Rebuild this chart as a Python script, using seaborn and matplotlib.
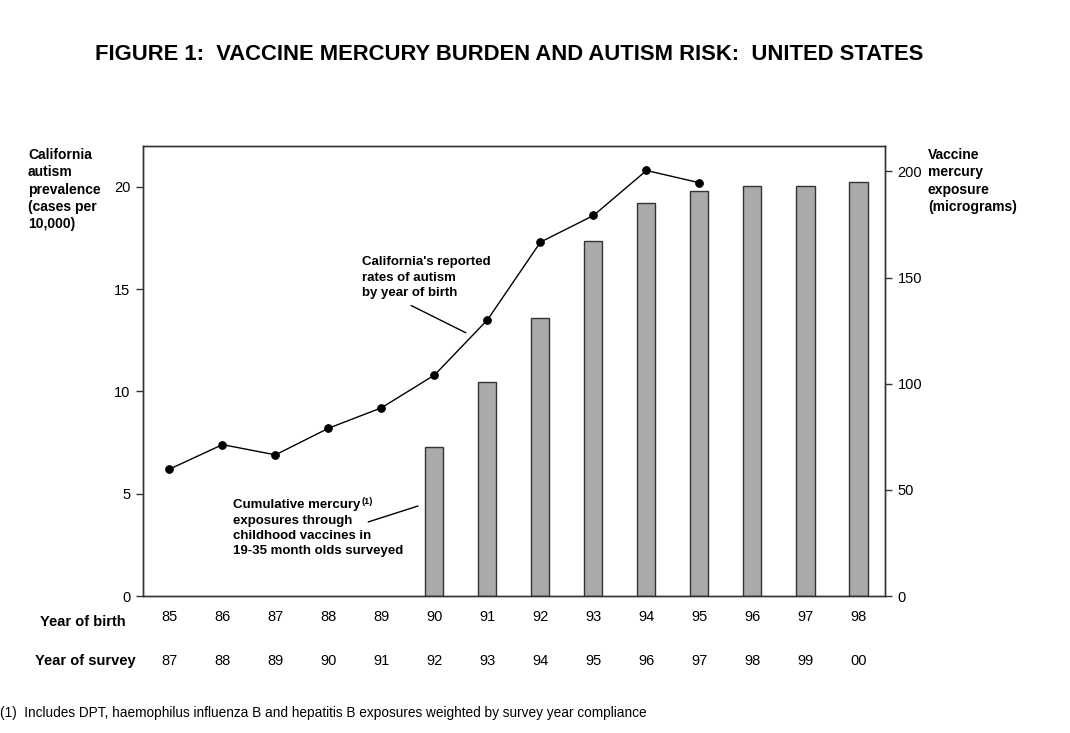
import pandas as pd
import numpy as np
import seaborn as sns
import matplotlib.pyplot as plt

# Data
birth_years = ['85', '86', '87', '88', '89', '90', '91', '92', '93', '94', '95', '96', '97', '98']
survey_years = ['87', '88', '89', '90', '91', '92', '93', '94', '95', '96', '97', '98', '99', '00']

rate_years = ['85', '86', '87', '88', '89', '90', '91', '92', '93', '94', '95']
autism_rate = [6.2, 7.4, 6.9, 8.2, 9.2, 10.8, 13.5, 17.3, 18.6, 20.8, 20.2]

mercury_years = ['90', '91', '92', '93', '94', '95', '96', '97', '98']
mercury_ug = [70, 101, 131, 167, 185, 191, 193, 193, 195]

rate_df = pd.DataFrame({'birth': rate_years, 'rate': autism_rate})
merc_df = pd.DataFrame({'birth': mercury_years, 'mercury': mercury_ug})

sns.set_style('white')
plt.rcParams['font.family'] = ['Liberation Sans', 'DejaVu Sans']
for key in ['text.color', 'axes.labelcolor', 'xtick.color', 'ytick.color']:
    plt.rcParams[key] = 'black'

fig = plt.figure(figsize=(10.7, 7.33), dpi=100)
ax = fig.add_axes([0.1336, 0.1869, 0.6935, 0.614])
ax2 = ax.twinx()

# Bars: vaccine mercury exposure (right axis)
sns.barplot(data=merc_df, x='birth', y='mercury', order=birth_years, ax=ax2,
            color='#aaaaaa', saturation=1, width=0.34, edgecolor='#333333', linewidth=1)

# Line: autism rate (left axis), drawn above bars
sns.pointplot(data=rate_df, x='birth', y='rate', order=birth_years, ax=ax,
              color='black', markers='o', markersize=5.5, linewidth=1)
ax.set_zorder(ax2.get_zorder() + 1)
ax.patch.set_visible(False)

ax.set_xlim(-0.5, 13.5)
ax.set_ylim(0, 22)
ax2.set_ylim(0, 212)
ax.set_yticks([0, 5, 10, 15, 20])
ax2.set_yticks([0, 50, 100, 150, 200])
ax.set_xlabel('')
ax.set_ylabel('')
ax2.set_xlabel('')
ax2.set_ylabel('')

# x ticks at category boundaries, labels as text rows
ax.set_xticks(np.arange(-0.5, 14, 1))
ax.set_xticklabels([])
ax2.set_xticks([])
ax.tick_params(axis='x', direction='out', length=5, width=1, color='#333333')
ax.tick_params(axis='y', direction='out', length=5, width=1, color='#333333', labelsize=10.5, pad=4)
ax2.tick_params(axis='y', direction='out', length=5, width=1, color='#333333', labelsize=10.5, pad=4)
for a in (ax, ax2):
    for s in a.spines.values():
        s.set_color('#333333')
        s.set_linewidth(1)
        s.set_visible(True)

tr = ax.get_xaxis_transform()
for i, (b, s) in enumerate(zip(birth_years, survey_years)):
    ax.text(i, -0.047, b, transform=tr, ha='center', va='center', fontsize=10.5)
    ax.text(i, -0.144, s, transform=tr, ha='center', va='center', fontsize=10.5)

# Annotations
ax.text(3.63, 16.6, "California's reported\nrates of autism\nby year of birth",
        fontsize=9.5, fontweight='bold', ha='left', va='top', linespacing=1.35)
ax.plot([4.56, 5.59], [14.2, 12.87], color='black', linewidth=1)
first = ax.text(1.2, 4.75, "Cumulative mercury",
                fontsize=9.5, fontweight='bold', ha='left', va='top')
ax.annotate('(1)', xy=(1, 1), xycoords=first, xytext=(0.5, 1), textcoords='offset points',
            fontsize=6.5, fontweight='bold', ha='left', va='top')
ax.text(1.2, 3.97, "exposures through\nchildhood vaccines in\n19-35 month olds surveyed",
        fontsize=9.5, fontweight='bold', ha='left', va='top', linespacing=1.35)
ax.plot([3.75, 4.69], [3.62, 4.4], color='black', linewidth=1)

# Figure texts
fig.text(0.4757, 0.925, 'FIGURE 1:  VACCINE MERCURY BURDEN AND AUTISM RISK:  UNITED STATES',
         ha='center', va='center', fontsize=15.8, fontweight='bold')
fig.text(28 / 1070, 1 - 148 / 733, 'California\nautism\nprevalence\n(cases per\n10,000)',
         ha='left', va='top', fontsize=10, fontweight='bold', linespacing=1.3)
fig.text(928 / 1070, 1 - 148 / 733, 'Vaccine\nmercury\nexposure\n(micrograms)',
         ha='left', va='top', fontsize=10, fontweight='bold', linespacing=1.3)
fig.text(40 / 1070, 1 - 622 / 733, 'Year of birth', ha='left', va='center', fontsize=10.5, fontweight='bold')
fig.text(35 / 1070, 1 - 661 / 733, 'Year of survey', ha='left', va='center', fontsize=10.5, fontweight='bold')
fig.text(0 / 1070, 1 - 713 / 733,
         '(1)  Includes DPT, haemophilus influenza B and hepatitis B exposures weighted by survey year compliance',
         ha='left', va='center', fontsize=9.8)

fig.savefig('out.png', dpi=100)
